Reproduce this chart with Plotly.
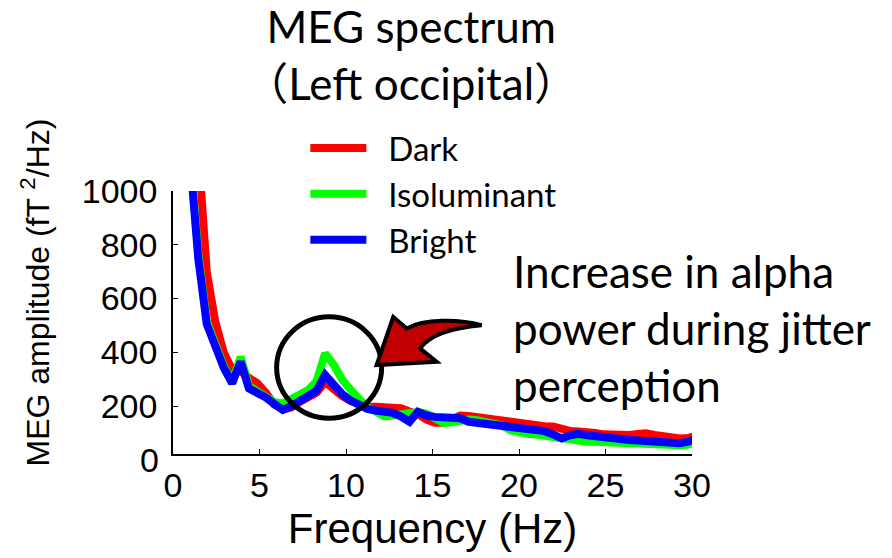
import plotly.graph_objects as go

# Frequency bins (Hz)
freq = [0.98, 1.46, 1.95, 2.44, 2.93, 3.42, 3.91, 4.39, 4.88, 5.37, 5.86, 6.35, 6.84, 7.32,
        7.81, 8.30, 8.79, 9.28, 9.77, 10.25, 10.74, 11.23, 11.72, 12.21, 12.70, 13.18, 13.67,
        14.16, 14.65, 15.14, 15.63, 16.11, 16.60, 17.09, 17.58, 18.07, 18.55, 19.04, 19.53,
        20.02, 20.51, 21.00, 21.48, 21.97, 22.46, 22.95, 23.44, 23.93, 24.41, 24.90, 25.39,
        25.88, 26.37, 26.86, 27.34, 27.83, 28.32, 28.81, 29.30, 29.79, 30.27]

dark = [1600, 1100, 700, 515, 400, 335, 330, 305, 285, 250, 205, 188, 195, 215,
        232, 250, 290, 262, 238, 220, 205, 198, 198, 198, 195, 192, 180,
        170, 150, 138, 138, 150, 165, 163, 158, 155, 150, 145, 142,
        135, 130, 127, 125, 124, 113, 108, 106, 105, 100, 95, 93,
        93, 93, 96, 99, 93, 87, 84, 80, 82, 90]

isoluminant = [1140, 770, 515, 425, 350, 290, 383, 275, 252, 235, 215, 210, 225, 245,
               260, 292, 396, 355, 300, 262, 225, 195, 180, 162, 165, 170, 173,
               178, 172, 155, 138, 140, 148, 150, 148, 143, 140, 128, 110,
               100, 97, 94, 90, 86, 75, 72, 70, 68, 68, 66, 64,
               63, 62, 60, 58, 57, 56, 56, 55, 57, 68]

bright = [1125, 750, 505, 416, 343, 285, 365, 266, 250, 232, 208, 186, 200, 218,
          238, 258, 316, 275, 245, 222, 203, 190, 184, 180, 175, 161, 142,
          179, 165, 160, 160, 162, 155, 142, 138, 133, 130, 130, 128,
          120, 113, 111, 107, 95, 80, 92, 97, 92, 88, 82, 75,
          74, 74, 72, 70, 67, 64, 62, 62, 68, 80]

series_names = ["Dark", "Isoluminant", "Bright"]
series_values = [dark, isoluminant, bright]
series_colors = ["#FF0000", "#00FF00", "#0000FF"]

x_ticks = [0, 5, 10, 15, 20, 25, 30]
y_ticks = [200, 400, 600, 800, 1000]
y_min, y_max = 22, 1000

title_text = "MEG spectrum<br>（Left occipital）"
note_text = "Increase in alpha<br>power during jitter<br>perception"
x_title = "Frequency (Hz)"
y_title = "MEG amplitude (fT <sup>2</sup>/Hz)"

SANS = "Liberation Sans, Arial, sans-serif"
CAL = "Lato, 'Noto Sans CJK JP', sans-serif"
GAP = "\u00a0\u00a0"

fig = go.Figure()
for name, vals, col in zip(series_names, series_values, series_colors):
    fig.add_trace(go.Scatter(x=freq, y=vals, mode="lines", name=GAP + name,
                             legendgroup=name,
                             line=dict(color=col, width=8)))

# highlight circle and curved arrow (decoration)
fig.add_shape(type="circle", xref="x", yref="y", x0=5.99, x1=12.06, y0=155, y1=532,
              line=dict(color="black", width=5), layer="above")
fig.add_shape(type="path", xref="x", yref="y",
              path=("M 11.77 353 L 12.73 532 L 13.51 489 "
                    "C 14.5 525, 16.5 525, 17.84 501 "
                    "C 16.2 492, 14.9 470, 14.28 415 "
                    "L 15.24 365 Z"),
              fillcolor="#C00000", line=dict(color="black", width=4), layer="above")

fig.add_annotation(text=note_text, xref="paper", yref="paper", x=0.651, y=0.479,
                   xanchor="left", yanchor="middle", align="left", showarrow=False,
                   font=dict(family=CAL, size=44, color="black"))
# zero label for y axis
fig.add_annotation(text="0", xref="paper", yref="paper", x=0,
                   y=(0 - y_min) / (y_max - y_min), xanchor="right", yanchor="middle",
                   xshift=-12, showarrow=False, font=dict(family=SANS, size=34, color="black"))
# y axis title
fig.add_annotation(text=y_title, xref="paper", yref="paper", x=-0.265, y=0.616,
                   xanchor="center", yanchor="middle", textangle=-90, showarrow=False,
                   font=dict(family=SANS, size=32, color="black"))

fig.update_layout(
    width=892, height=558,
    margin=dict(l=173, r=200, t=191, b=104, autoexpand=False),
    paper_bgcolor="white", plot_bgcolor="white",
    title=dict(text=title_text, x=0.461, xanchor="center", y=0.923, yanchor="middle",
               font=dict(family=CAL, size=44, color="black")),
    showlegend=True,
    legend=dict(x=0.255, y=1.270, xanchor="left", yanchor="top",
                font=dict(family=CAL, size=33, color="black"),
                itemwidth=56, tracegroupgap=0, bgcolor="rgba(0,0,0,0)"),
    xaxis=dict(range=[0, 30], tickvals=x_ticks, ticks="inside", ticklen=5,
               tickcolor="black", showline=True, linecolor="black", linewidth=1.5,
               showgrid=False, zeroline=False, ticklabelstandoff=0,
               tickfont=dict(family=SANS, size=34, color="black"),
               title=dict(text=x_title, standoff=11,
                          font=dict(family=SANS, size=42, color="black"))),
    yaxis=dict(range=[y_min, y_max], tickvals=y_ticks, ticks="inside", ticklen=5,
               tickcolor="black", showline=True, linecolor="black", linewidth=1.5,
               showgrid=False, zeroline=False, ticklabelstandoff=7,
               tickfont=dict(family=SANS, size=34, color="black")),
)

fig.write_html("out.html", config={"displayModeBar": False},
               post_script="document.body.style.margin='0';")
